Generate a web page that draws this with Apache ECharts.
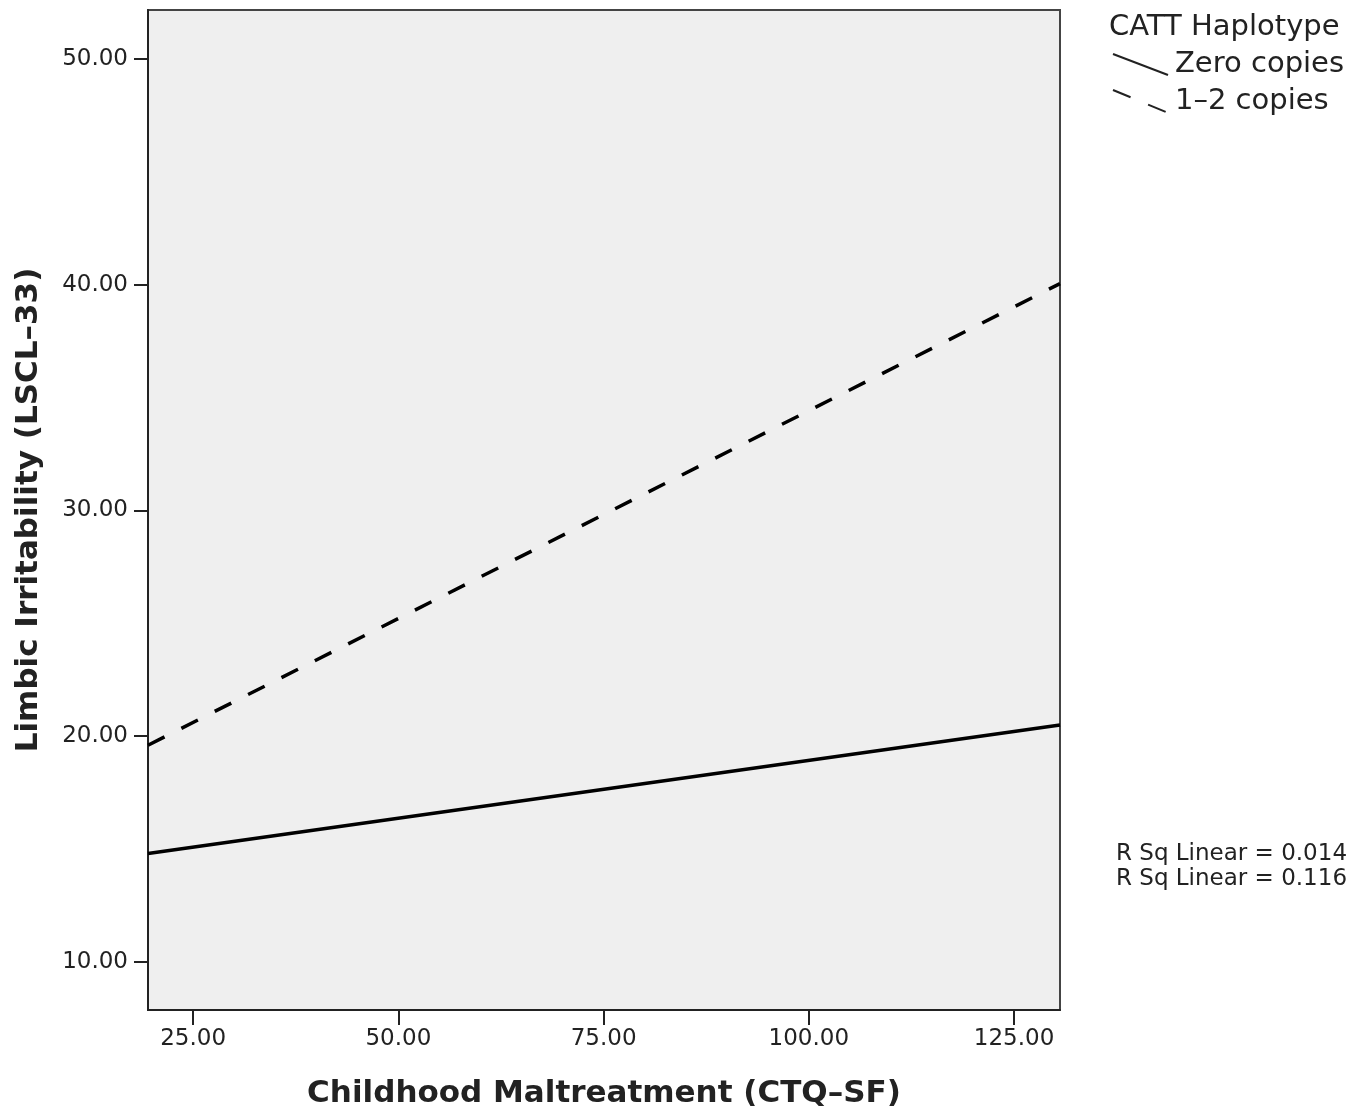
<!DOCTYPE html>
<html><head><meta charset="utf-8">
<script src="https://cdn.jsdelivr.net/npm/echarts@6/dist/echarts.min.js"></script>
<style>html,body{margin:0;padding:0;background:#fff}#c{width:1371px;height:1117px}</style>
</head><body><div id="c"></div>
<script>
const xEnds = [19.5, 130.6];
const zeroCopies = [14.8, 20.5];
const oneTwoCopies = [19.6, 40.05];
const xTicks = [25, 50, 75, 100, 125];
const yTicks = [10, 20, 30, 40, 50];
const legendTitle = 'CATT Haplotype';
const legendNames = ['Zero copies', '1\u20132 copies'];
const rsq = ['R Sq Linear = 0.014', 'R Sq Linear = 0.116'];

const font = '"DejaVu Sans", sans-serif';
const chart = echarts.init(document.getElementById('c'));
chart.setOption({
  animation: false,
  grid: {left: 148, right: 311, top: 10, bottom: 107, show: true, backgroundColor: '#efefef', borderColor: '#444', borderWidth: 2},
  xAxis: {
    type: 'value', min: 19.5, max: 130.6,
    name: 'Childhood Maltreatment (CTQ\u2013SF)', nameLocation: 'middle', nameGap: 68,
    nameTextStyle: {fontFamily: font, fontSize: 31, fontWeight: 'bold', color: '#222'},
    axisLine: {show: true, lineStyle: {color: '#222', width: 2}},
    axisTick: {show: true, length: 15, lineStyle: {color: '#222', width: 2}, customValues: xTicks},
    axisLabel: {fontFamily: font, fontSize: 23, color: '#222', margin: 18, customValues: xTicks, formatter: v => v.toFixed(2)},
    splitLine: {show: false}
  },
  yAxis: {
    type: 'value', min: 7.87, max: 52.17,
    name: 'Limbic Irritability (LSCL\u201333)', nameLocation: 'middle', nameGap: 104,
    nameTextStyle: {fontFamily: font, fontSize: 31, fontWeight: 'bold', color: '#222'},
    axisLine: {show: true, lineStyle: {color: '#222', width: 2}},
    axisTick: {show: true, length: 14, lineStyle: {color: '#222', width: 2}, customValues: yTicks},
    axisLabel: {fontFamily: font, fontSize: 23, color: '#222', margin: 20, customValues: yTicks, formatter: v => v.toFixed(2)},
    splitLine: {show: false}
  },
  series: [
    {name: legendNames[0], type: 'line', symbol: 'none', data: xEnds.map((x, i) => [x, zeroCopies[i]]), lineStyle: {color: '#000', width: 3.5}},
    {name: legendNames[1], type: 'line', symbol: 'none', data: xEnds.map((x, i) => [x, oneTwoCopies[i]]), lineStyle: {color: '#000', width: 3.5, type: [18.5, 18.9]}}
  ],
  graphic: [
    {type: 'text', left: 1109, top: 13, style: {text: legendTitle, font: '29px ' + font, fill: '#222'}},
    {type: 'line', shape: {x1: 1113, y1: 54, x2: 1168, y2: 75}, style: {stroke: '#222', lineWidth: 2}},
    {type: 'text', left: 1175, top: 50, style: {text: legendNames[0], font: '29px ' + font, fill: '#222'}},
    {type: 'line', shape: {x1: 1113, y1: 90, x2: 1166, y2: 112}, style: {stroke: '#222', lineWidth: 2, lineDash: [19, 19]}},
    {type: 'text', left: 1175, top: 87, style: {text: legendNames[1], font: '29px ' + font, fill: '#222'}},
    {type: 'text', left: 1116, top: 842, style: {text: rsq[0] + '\n' + rsq[1], font: '23px ' + font, fill: '#222', lineHeight: 25}}
  ]
});
</script></body></html>
